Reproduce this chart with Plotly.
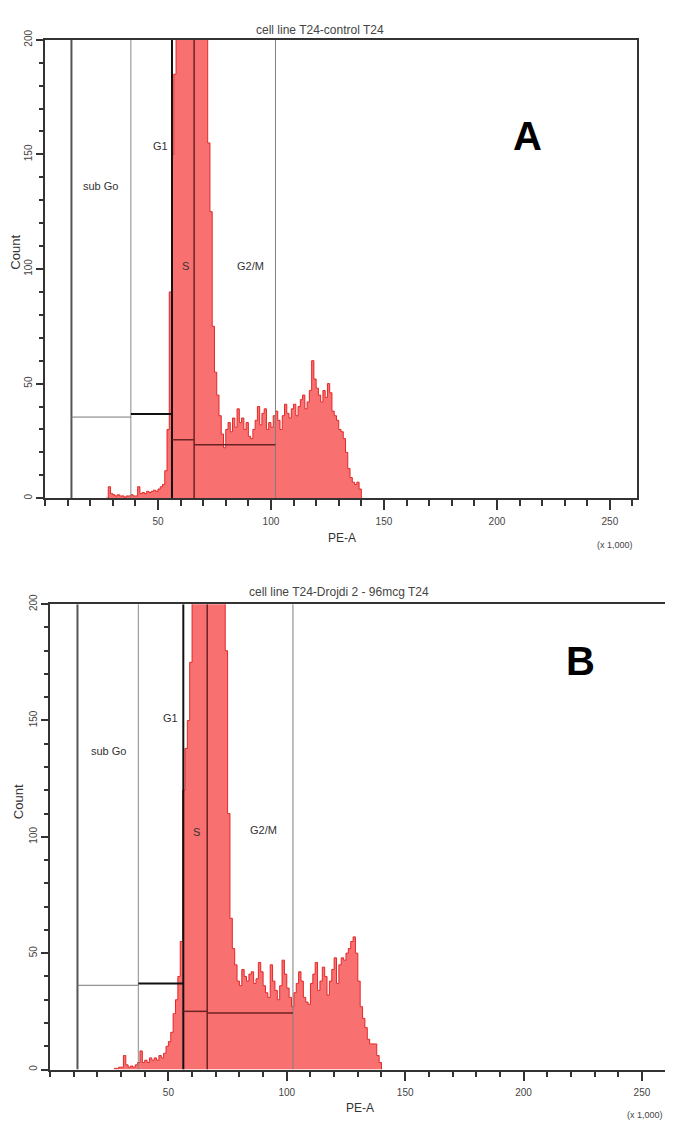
import plotly.graph_objects as go

# page is drawn with the browser's default 8px body margin, so reference pixel
# positions are shifted by that margin
W, H = 665, 1115
OX, OY = 8, 8
FONT = "Liberation Sans, Arial, sans-serif"

# PE-A histogram (x 1,000), one channel per bin starting at 27
bin_start = 27
counts_a = [0, 5, 2, 1.5, 1, 1.5, 1, 1, 0.5, 1, 1, 1.5, 1, 1, 5, 2, 2.5, 2, 3, 2.5,
            3, 3.5, 3, 4, 5, 6, 12, 30, 90, 150, 185, 240, 300, 360, 410, 440, 450, 430, 400, 360,
            320, 290, 260, 235, 215, 155, 125, 75, 55, 45, 36, 28, 22, 30, 33, 29, 35, 31, 39, 33,
            35, 30, 33, 27, 26, 30, 34, 40, 32, 37, 39, 30, 33, 31, 36, 38, 34, 30, 36, 41,
            37, 35, 39, 41, 36, 40, 43, 45, 39, 42, 47, 60, 52, 48, 45, 42, 47, 44, 50, 46,
            38, 36, 34, 30, 29, 26, 20, 13, 9, 7, 6, 7, 4]
counts_b = [0.5, 0.5, 1, 1, 6, 2, 1, 1.5, 1, 2, 3, 8, 3, 4, 3, 5, 4, 5, 4, 6,
            5, 7, 10, 12, 16, 24, 30, 40, 55, 120, 138, 150, 175, 230, 290, 350, 400, 430, 440, 420,
            390, 350, 310, 280, 250, 225, 210, 180, 110, 65, 52, 45, 38, 36, 43, 40, 38, 41, 42, 37,
            39, 46, 42, 36, 33, 31, 45, 38, 34, 30, 36, 47, 41, 35, 31, 27, 33, 37, 42, 38,
            31, 29, 28, 37, 41, 46, 34, 38, 44, 40, 32, 38, 43, 48, 37, 45, 48, 47, 50, 52,
            55, 57, 50, 38, 27, 22, 18, 13, 11, 11, 11, 6, 3]

# gates: sub Go, G1, S, G2/M
gate_names = ["sub Go", "G1", "S", "G2/M"]
gate_edges_a = [11.7, 38.0, 56.2, 66.0, 102.0]
gate_levels_a = [35.4, 36.7, 25.5, 23.3]
gate_edges_b = [11.6, 37.3, 56.3, 66.4, 102.6]
gate_levels_b = [36.2, 37.0, 25.0, 24.3]

titles = ["cell line T24-control T24", "cell line T24-Drojdi 2 - 96mcg T24"]
letters = ["A", "B"]
x_ticks = [50, 100, 150, 200, 250]
y_ticks = [0, 50, 100, 150, 200]
x_max = [262, 261]


def px(x):
    return (x - OX) / W


def py(y):
    return 1 - (y - OY) / H


# plot boxes in reference pixels: left, top, right, bottom
boxes = [(45, 30, 637, 493), (50, 600, 668, 1070)]
# label positions in reference pixels
label_pos = [
    {"title": (320, 20), "letter": (527, 127), "count": (16, 245), "pea": (342, 533), "scale": (615, 540),
     "gates": [(100, 178), (160, 137), (185, 258), (250, 258)]},
    {"title": (339, 588), "letter": (580, 657), "count": (18, 800), "pea": (360, 1109), "scale": (645, 1116),
     "gates": [(108, 748), (170, 715), (196, 830), (263, 828)]},
]


def note(x, y, text, size, color="#333", angle=0):
    return dict(x=px(x), y=py(y), xref="paper", yref="paper", text=text, textangle=angle,
                xanchor="center", yanchor="middle", showarrow=False,
                font=dict(size=size, color=color, family=FONT))


fig = go.Figure()
shapes = []
annotations = []

panels = [(counts_a, gate_edges_a, gate_levels_a), (counts_b, gate_edges_b, gate_levels_b)]
for i, (counts, edges, levels) in enumerate(panels):
    xa = "x" if i == 0 else "x2"
    ya = "y" if i == 0 else "y2"
    xs = [bin_start + k for k in range(len(counts) + 1)]
    ys = counts + [0]
    fig.add_trace(go.Scatter(x=xs, y=ys, xaxis=xa, yaxis=ya, mode="lines", line_shape="hv",
                             fill="tozeroy", fillcolor="rgb(249,112,112)",
                             line=dict(color="rgb(226,40,40)", width=1), showlegend=False,
                             hoverinfo="skip"))

    # vertical gate boundaries
    v_styles = [("#555555", 2), ("#8a8a8a", 1), ("#111111", 2), ("#6b2222", 1.5), ("#808080", 1)]
    for e, (c, w) in zip(edges, v_styles):
        shapes.append(dict(type="line", xref=xa, yref=ya, x0=e, x1=e, y0=0, y1=200,
                           line=dict(color=c, width=w), layer="above"))
    h_styles = [("#777777", 1), ("#111111", 2), ("#6b2222", 1.5), ("#6b2222", 1.5)]
    for k, (lv, (c, w)) in enumerate(zip(levels, h_styles)):
        shapes.append(dict(type="line", xref=xa, yref=ya, x0=edges[k], x1=edges[k + 1], y0=lv, y1=lv,
                           line=dict(color=c, width=w), layer="above"))

    lp = label_pos[i]
    for name, (gx, gy) in zip(gate_names, lp["gates"]):
        annotations.append(note(gx, gy, name, 11))
    annotations.append(note(*lp["title"], titles[i], 12, "#444"))
    annotations.append(note(*lp["letter"], "<b>" + letters[i] + "</b>", 40, "#000"))
    annotations.append(note(*lp["count"], "Count", 13, angle=-90))
    annotations.append(note(*lp["pea"], "PE-A", 12))
    annotations.append(note(*lp["scale"], "(x 1,000)", 9, "#444"))


def x_axis(box, anchor, xmax):
    l, t, r, b = box
    return dict(domain=[px(l), min(px(r), 1)], anchor=anchor, range=[0, xmax], tickmode="array", tickvals=x_ticks,
                ticks="outside", ticklen=10, tickwidth=1.5, tickcolor="#333",
                minor=dict(tickmode="linear", tick0=0, dtick=10, ticks="outside", ticklen=6, tickcolor="#333"),
                showline=True, mirror=True, linecolor="#333", linewidth=1.5, showgrid=False, zeroline=False,
                tickfont=dict(size=10, color="#444", family=FONT), ticklabelstandoff=3)


def y_axis(box, anchor):
    l, t, r, b = box
    return dict(domain=[py(b), py(t)], anchor=anchor, range=[0, 200], tickmode="array", tickvals=y_ticks,
                ticks="outside", ticklen=7, tickwidth=1.5, tickcolor="#333", tickangle=-90,
                minor=dict(tickmode="linear", tick0=0, dtick=10, ticks="outside", ticklen=4, tickcolor="#333"),
                showline=True, mirror=True, linecolor="#333", linewidth=1.5, showgrid=False, zeroline=False,
                tickfont=dict(size=10, color="#444", family=FONT))


fig.update_layout(
    width=W, height=H, margin=dict(l=0, r=0, t=0, b=0),
    paper_bgcolor="white", plot_bgcolor="white",
    xaxis=x_axis(boxes[0], "y", x_max[0]), yaxis=y_axis(boxes[0], "x"),
    xaxis2=x_axis(boxes[1], "y2", x_max[1]), yaxis2=y_axis(boxes[1], "x2"),
    shapes=shapes, annotations=annotations,
)

fig.write_html("out.html")
